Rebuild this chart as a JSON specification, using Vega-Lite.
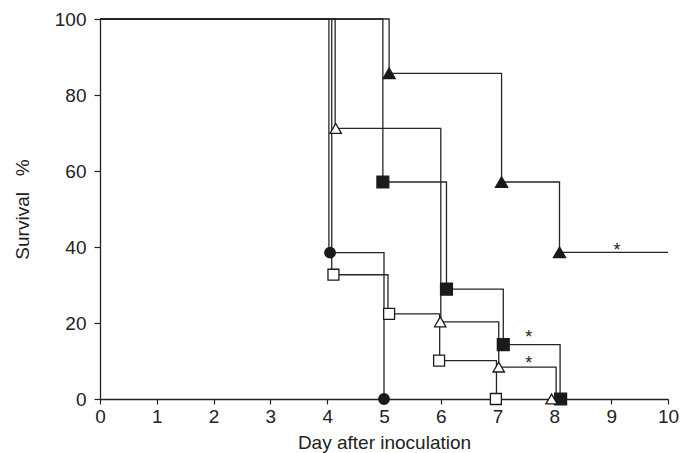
{
  "$schema": "https://vega.github.io/schema/vega-lite/v6.json",
  "width": 568,
  "height": 380,
  "autosize": "none",
  "padding": {"left": 100, "top": 19, "right": 23, "bottom": 54},
  "background": "white",
  "config": {
    "view": {"stroke": null},
    "font": "Liberation Sans, Arial, sans-serif"
  },
  "datasets": {
    "steps": [
      {"group": "filled triangle", "day": 0, "survival": 100},
      {"group": "filled triangle", "day": 5.09, "survival": 85.7},
      {"group": "filled triangle", "day": 7.07, "survival": 57.1},
      {"group": "filled triangle", "day": 8.09, "survival": 38.6},
      {"group": "filled triangle", "day": 10, "survival": 38.6},
      {"group": "filled square", "day": 0, "survival": 100},
      {"group": "filled square", "day": 4.98, "survival": 57.1},
      {"group": "filled square", "day": 6.1, "survival": 28.9},
      {"group": "filled square", "day": 7.1, "survival": 14.3},
      {"group": "filled square", "day": 8.1, "survival": 0},
      {"group": "open triangle", "day": 0, "survival": 100},
      {"group": "open triangle", "day": 4.14, "survival": 71.2},
      {"group": "open triangle", "day": 6.0, "survival": 20.3},
      {"group": "open triangle", "day": 7.02, "survival": 8.4},
      {"group": "open triangle", "day": 8.03, "survival": 0},
      {"group": "open square", "day": 0, "survival": 100},
      {"group": "open square", "day": 4.08, "survival": 32.7},
      {"group": "open square", "day": 5.07, "survival": 22.4},
      {"group": "open square", "day": 5.98, "survival": 10.1},
      {"group": "open square", "day": 6.98, "survival": 0},
      {"group": "filled circle", "day": 0, "survival": 100},
      {"group": "filled circle", "day": 4.03, "survival": 38.5},
      {"group": "filled circle", "day": 5.0, "survival": 0}
    ],
    "markers": [
      {"group": "filled triangle", "day": 5.09, "survival": 85.7},
      {"group": "filled triangle", "day": 7.07, "survival": 57.1},
      {"group": "filled triangle", "day": 8.09, "survival": 38.6},
      {"group": "filled square", "day": 4.98, "survival": 57.1},
      {"group": "filled square", "day": 6.1, "survival": 28.9},
      {"group": "filled square", "day": 7.1, "survival": 14.3},
      {"group": "filled square", "day": 8.11, "survival": 0},
      {"group": "open triangle", "day": 4.15, "survival": 71.2},
      {"group": "open triangle", "day": 5.99, "survival": 20.3},
      {"group": "open triangle", "day": 7.02, "survival": 8.4},
      {"group": "open triangle", "day": 7.95, "survival": 0},
      {"group": "open square", "day": 4.11, "survival": 32.7},
      {"group": "open square", "day": 5.09, "survival": 22.4},
      {"group": "open square", "day": 5.97, "survival": 10.1},
      {"group": "open square", "day": 6.97, "survival": 0},
      {"group": "filled circle", "day": 4.05, "survival": 38.5},
      {"group": "filled circle", "day": 5.0, "survival": 0}
    ],
    "stars": [
      {"day": 9.1, "survival": 40.2, "label": "*"},
      {"day": 7.55, "survival": 17.4, "label": "*"},
      {"day": 7.55, "survival": 10.6, "label": "*"}
    ]
  },
  "encoding": {
    "x": {
      "field": "day",
      "type": "quantitative",
      "scale": {"domain": [0, 10], "nice": false, "zero": false},
      "axis": {
        "title": "Day after inoculation",
        "values": [0, 1, 2, 3, 4, 5, 6, 7, 8, 9, 10],
        "grid": false,
        "domainColor": "#222",
        "domainWidth": 1.3,
        "tickColor": "#222",
        "tickWidth": 1.2,
        "tickSize": 5,
        "labelFontSize": 19,
        "labelColor": "#222",
        "labelPadding": 3,
        "labelFlush": false,
        "labelFont": "Liberation Sans, Arial, sans-serif",
        "titleFont": "Liberation Sans, Arial, sans-serif",
        "titleFontSize": 19,
        "titleFontWeight": "normal",
        "titleColor": "#222",
        "titleBaseline": "alphabetic",
        "titleY": 49
      }
    },
    "y": {
      "field": "survival",
      "type": "quantitative",
      "scale": {"domain": [0, 100], "nice": false},
      "axis": {
        "title": "Survival\u00a0\u00a0\u00a0%",
        "values": [0, 20, 40, 60, 80, 100],
        "grid": false,
        "domainColor": "#222",
        "domainWidth": 1.3,
        "tickColor": "#222",
        "tickWidth": 1.2,
        "tickSize": 6,
        "labelFontSize": 19,
        "labelColor": "#222",
        "labelPadding": 8,
        "labelFlush": false,
        "labelFont": "Liberation Sans, Arial, sans-serif",
        "titleFont": "Liberation Sans, Arial, sans-serif",
        "titleFontSize": 19,
        "titleFontWeight": "normal",
        "titleColor": "#222",
        "titleBaseline": "middle",
        "titleX": -78,
        "titleY": 190
      }
    }
  },
  "layer": [
    {
      "data": {"name": "steps"},
      "mark": {"type": "line", "interpolate": "step-after", "color": "#262626", "strokeWidth": 1.3},
      "encoding": {"detail": {"field": "group"}}
    },
    {
      "data": {"name": "markers"},
      "mark": {"type": "point", "filled": true, "opacity": 1, "stroke": "#1a1a1a", "strokeWidth": 1.3},
      "encoding": {
        "shape": {
          "field": "group",
          "type": "nominal",
          "scale": {
            "domain": ["filled triangle", "filled square", "open triangle", "open square", "filled circle"],
            "range": ["triangle-up", "square", "triangle-up", "square", "circle"]
          },
          "legend": null
        },
        "fill": {
          "field": "group",
          "type": "nominal",
          "scale": {
            "domain": ["filled triangle", "filled square", "open triangle", "open square", "filled circle"],
            "range": ["#1a1a1a", "#1a1a1a", "#ffffff", "#ffffff", "#1a1a1a"]
          },
          "legend": null
        },
        "size": {
          "field": "group",
          "type": "nominal",
          "scale": {
            "domain": ["filled triangle", "filled square", "open triangle", "open square", "filled circle"],
            "range": [150, 110, 150, 110, 115]
          },
          "legend": null
        }
      }
    },
    {
      "data": {"name": "stars"},
      "mark": {"type": "text", "fontSize": 18, "color": "#222", "baseline": "middle", "dy": 5, "font": "Liberation Sans, Arial, sans-serif"},
      "encoding": {"text": {"field": "label"}}
    }
  ]
}
